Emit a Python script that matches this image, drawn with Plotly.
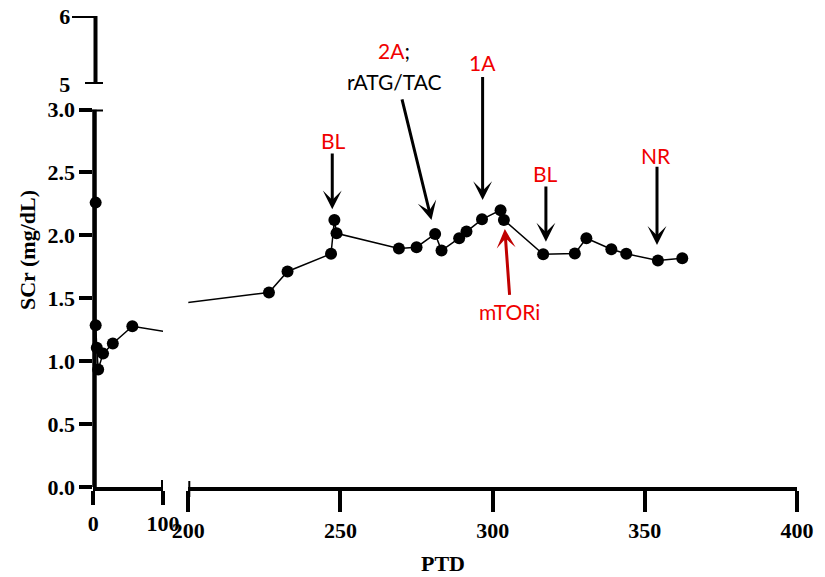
import plotly.graph_objects as go

# ---------------- data ----------------
days = [3.4, 3.4, 5, 7, 14, 28, 56, 119,
        226.5, 232.6, 246.9, 248.0, 248.7, 269.2, 275.0, 281.1, 283.2, 289.0,
        291.4, 296.5, 302.6, 303.7, 316.6, 327.0, 330.8, 339.0, 343.9, 354.3, 362.3]
scr = [2.26, 1.285, 1.106, 0.934, 1.06, 1.14, 1.277, 1.22,
       1.546, 1.713, 1.853, 2.122, 2.016, 1.895, 1.906, 2.011, 1.879, 1.977,
       2.03, 2.127, 2.20, 2.122, 1.850, 1.855, 1.977, 1.89, 1.853, 1.80, 1.818]
# the value at day 119 falls in the axis break and is not displayed as a dot
shown = [True] * 7 + [False] + [True] * 21

x_ticks_left = [0, 100]
x_ticks_right = [200, 250, 300, 350, 400]
y_ticks_low = [0.0, 0.5, 1.0, 1.5, 2.0, 2.5, 3.0]
y_ticks_high = [5, 6]

event_labels = ["BL", "2A", "1A", "BL", "NR", "mTORi"]
event_sub = "rATG/TAC"

# ---------------- layout constants (window pixels) ----------------
OFF = 8                      # default page margin around the plot div
W, H = 825 - OFF, 577 - OFF
def px(x):
    return (x - OFF) / W
def py(y):
    return (H - (y - OFF)) / H

XL = [93.3, 163.0]
XR = [188.3, 797.0]
Y_LOW = [487.0, 109.5]
Y_HIGH = [84.0, 16.0]

AX_FONT = dict(family="Liberation Serif", size=22, color="black", weight="bold")
LBL_FONT = dict(family="Lato", size=21, color="#F00000")
RED = "#F00000"
DARKRED = "#C00000"

fig = go.Figure()

mx = [d for d, s in zip(days, shown) if s]
my = [v for v, s in zip(scr, shown) if s]

for xa in ["x", "x2"]:
    fig.add_trace(go.Scatter(x=days, y=scr, mode="lines", xaxis=xa, yaxis="y",
                             line=dict(color="black", width=1.5),
                             showlegend=False, hoverinfo="skip"))
    fig.add_trace(go.Scatter(x=mx, y=my, mode="markers", xaxis=xa, yaxis="y",
                             marker=dict(color="black", size=12),
                             cliponaxis=False, showlegend=False))

axis_common = dict(linecolor="black", linewidth=4, showgrid=False,
                   zeroline=False, ticks="outside", tickwidth=4, tickcolor="black",
                   tickfont=AX_FONT, automargin=False, ticklabeloverflow="allow")

fig.update_layout(
    width=W, height=H,
    margin=dict(l=0, r=0, t=0, b=0),
    paper_bgcolor="white", plot_bgcolor="white",
    showlegend=False,
    xaxis=dict(domain=[px(XL[0]), px(XL[1])], range=[0, 100], anchor="y", showline=True,
               tickvals=x_ticks_left, ticklen=14, **axis_common),
    xaxis2=dict(domain=[px(XR[0]), px(XR[1])], range=[200, 400], anchor="y", showline=True,
                tickvals=x_ticks_right, ticklen=21, **axis_common),
    yaxis=dict(domain=[py(Y_LOW[0]), py(Y_LOW[1])], range=[0, 3], anchor="x", showline=False,
               tickvals=y_ticks_low, tickformat=".1f", ticklen=13, **axis_common),
    yaxis2=dict(domain=[py(Y_HIGH[0]), py(Y_HIGH[1])], range=[5, 6], anchor="x",
                tickvals=y_ticks_high, showline=False, showgrid=False, zeroline=False,
                ticks="", ticklabelstandoff=22, tickfont=AX_FONT, automargin=False,
                ticklabeloverflow="allow"),
)

# vertical axis lines, axis-break caps and the long tick at 6
cap = dict(color="black", width=4)
shapes = [
    dict(type="line", xref="paper", yref="y", x0=px(94.5), x1=px(94.5), y0=0, y1=3,
         line=dict(color="black", width=4.5)),
    dict(type="line", xref="paper", yref="y2", x0=px(95.5), x1=px(95.5), y0=5, y1=6, line=cap),
    dict(type="line", xref="paper", yref="y", x0=px(85), x1=px(103), y0=3, y1=3, line=cap),
    dict(type="line", xref="paper", yref="y2", x0=px(85), x1=px(103), y0=5, y1=5, line=cap),
    dict(type="line", xref="paper", yref="y2", x0=px(72), x1=px(97), y0=6, y1=6, line=cap),
    dict(type="line", xref="x", yref="paper", x0=100, x1=100, y0=py(480), y1=py(497), line=cap),
    dict(type="line", xref="x2", yref="paper", x0=200, x1=200, y0=py(481), y1=py(497), line=cap),
]
fig.update_layout(shapes=shapes)

ann = []
# axis titles
ann.append(dict(text="PTD", xref="paper", yref="paper", x=px(443), y=py(563),
                showarrow=False, font=AX_FONT, xanchor="center", yanchor="middle"))
ann.append(dict(text="SCr (mg/dL)", xref="paper", yref="paper", x=px(27), y=py(250),
                showarrow=False, font=AX_FONT, textangle=-90,
                xanchor="center", yanchor="middle"))

# event labels: x in days on the right axis, y as pixel row (some sit above the axis range)
label_pos = [(247.6, 140), (267.6, 50), (296.7, 63), (317.5, 173), (353.8, 155), (305.4, 312)]
for (lx, ly), t in zip(label_pos, event_labels):
    txt = t
    if t == "2A":
        txt = "<span style='color:%s'>2A</span><span style='color:black'>;</span>" % RED
    ann.append(dict(text=txt, xref="x2", yref="paper", x=lx, y=py(ly), showarrow=False,
                    font=LBL_FONT, xanchor="center", yanchor="middle"))
ann.append(dict(text=event_sub, xref="x2", yref="paper", x=267.6, y=py(81.7), showarrow=False,
                font=dict(family="Lato", size=21, color="black"),
                xanchor="center", yanchor="middle"))

# arrows: (tail, tip, colour)
arrows = [
    ((247.3, 2.663), (247.3, 2.207), "black"),
    ((270.1, 3.093), (279.9, 2.122), "black"),
    ((296.7, 3.27), (296.7, 2.28), "black"),
    ((317.5, 2.40), (317.5, 1.95), "black"),
    ((354.0, 2.557), (354.0, 1.924), "black"),
    ((305.6, 1.515), (304.0, 2.05), DARKRED),
]
for (tx, ty), (hx, hy), c in arrows:
    ann.append(dict(text="", xref="x2", yref="y", axref="x2", ayref="y",
                    x=hx, y=hy, ax=tx, ay=ty, showarrow=True,
                    arrowhead=3, arrowsize=1.05, arrowwidth=3, arrowcolor=c,
                    standoff=0, startstandoff=0))
fig.update_layout(annotations=ann)

fig.write_html("out.html")
